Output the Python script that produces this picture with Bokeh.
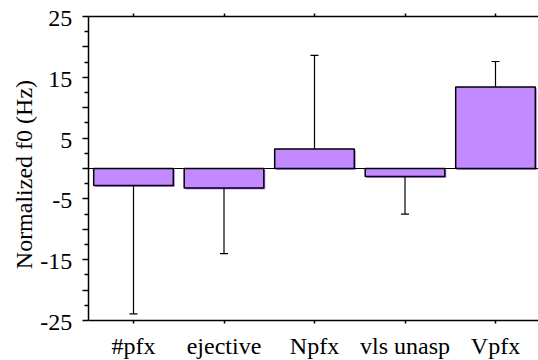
import math
from bokeh.plotting import figure
from bokeh.models import FixedTicker, LinearAxis, Range1d, CustomJSTickFormatter
from bokeh.core.properties import value
from bokeh.embed import file_html
from bokeh.resources import INLINE

categories = ["#pfx", "ejective", "Npfx", "vls unasp", "Vpfx"]
means = [-2.8, -3.2, 3.2, -1.3, 13.4]
errors = [21.1, 10.8, 15.4, 6.2, 4.2]
y_major = [-25, -20, -15, -10, -5, 0, 5, 10, 15, 20, 25]
y_labeled = [-25, -15, -5, 5, 15, 25]
y_title = "Normalized f0 (Hz)"

xs = list(range(len(categories)))
tips = [m + (e if m >= 0 else -e) for m, e in zip(means, errors)]

FONT = "Liberation Serif"
FS = "24px"
BAR_W = 0.88
COLOR = "#c389ff"

# layout geometry (pixels): frame spans the canvas apart from thin borders
W, H = 538, 360
B_LEFT, B_TOP = 10, 10
PX_X = 90.5          # pixels per category
PX_Y = 6.08          # pixels per Hz
X_CENTER0 = 133      # pixel x of first category
Y_ZERO = 168         # pixel y of zero
X0 = -(X_CENTER0 - B_LEFT) / PX_X
X1 = (W - X_CENTER0) / PX_X
Y1 = (Y_ZERO - B_TOP) / PX_Y
Y0 = -(H - Y_ZERO) / PX_Y
XL = -0.5            # left edge of the value axis (data)
YB, YT = -25, 25     # value axis extent

DX = 1.5 / PX_X      # fill shadow offset
DY = 1.5 / PX_Y

p = figure(width=W, height=H, output_backend="svg", toolbar_location=None,
           x_range=Range1d(X0, X1), y_range=Range1d(Y0, Y1), x_axis_location="above",
           min_border_left=B_LEFT, min_border_right=0, min_border_top=B_TOP, min_border_bottom=0)
p.outline_line_color = None
p.grid.visible = False
p.background_fill_color = "white"
p.border_fill_color = "white"

empty = CustomJSTickFormatter(code="return '';")

# bar fill shadow
p.quad(left=[x - BAR_W / 2 + DX for x in xs], right=[x + BAR_W / 2 + DX for x in xs],
       top=[m - DY for m in means], bottom=[-DY] * len(xs),
       fill_color=COLOR, line_color=None)
# bars
p.vbar(x=xs, top=means, bottom=0, width=BAR_W, fill_color=COLOR,
       line_color="black", line_width=1.5)

# error bars
p.segment(x0=xs, y0=means, x1=xs, y1=tips, line_color="black", line_width=1.2)
p.scatter(x=xs, y=tips, marker="dash", size=8, line_color="black", line_width=1.2)

# zero line
p.segment(x0=[XL], y0=[0], x1=[X1], y1=[0], line_color="black", line_width=1.2)

# y axis fixed at the left edge of the bars
minor = [v + 2.5 for v in y_major[:-1]]
yax = p.yaxis[0]
yax.ticker = FixedTicker(ticks=y_major, minor_ticks=minor)
yax.formatter = empty
yax.fixed_location = XL
yax.bounds = (YB, YT)
yax.major_tick_out = 6
yax.major_tick_in = 0
yax.minor_tick_out = 4
yax.minor_tick_in = 0
yax.axis_line_width = 1.5
yax.major_tick_line_width = 1.5
yax.minor_tick_line_width = 1.5
yax.major_label_standoff = 0

# top axis
tax = p.xaxis[0]
tax.ticker = FixedTicker(ticks=xs, minor_ticks=[])
tax.formatter = empty
tax.fixed_location = YT
tax.bounds = (XL, X1)
tax.major_tick_out = 3
tax.major_tick_in = 0
tax.minor_tick_out = 0
tax.axis_line_width = 1.5
tax.major_tick_line_width = 1.5
tax.major_label_standoff = 0

# bottom axis line (ticks pointing down)
bax = LinearAxis(ticker=FixedTicker(ticks=xs, minor_ticks=[]), formatter=empty,
                 fixed_location=YB, bounds=(XL, X1),
                 major_tick_out=0, major_tick_in=3, minor_tick_out=0, minor_tick_in=0,
                 axis_line_width=1.5, major_tick_line_width=1.5, major_label_standoff=0)
p.add_layout(bax, "above")

# tick labels and axis title as serif text
p.text(x=[XL - 16 / PX_X] * len(y_labeled), y=[v - 2 / PX_Y for v in y_labeled],
       text=[str(v) for v in y_labeled], text_align="right", text_baseline="alphabetic",
       text_font=value(FONT), text_font_size=FS, text_color="black")
p.text(x=xs, y=[YB - 25 / PX_Y] * len(xs), text=categories,
       text_align="center", text_baseline="alphabetic",
       text_font=value(FONT), text_font_size=FS, text_color="black")
p.text(x=[XL - 64 / PX_X], y=[-1.0], text=[y_title], angle=math.pi / 2,
       text_align="center", text_baseline="alphabetic",
       text_font=value(FONT), text_font_size=FS, text_color="black")

open("out.html", "w").write(file_html(p, INLINE))
